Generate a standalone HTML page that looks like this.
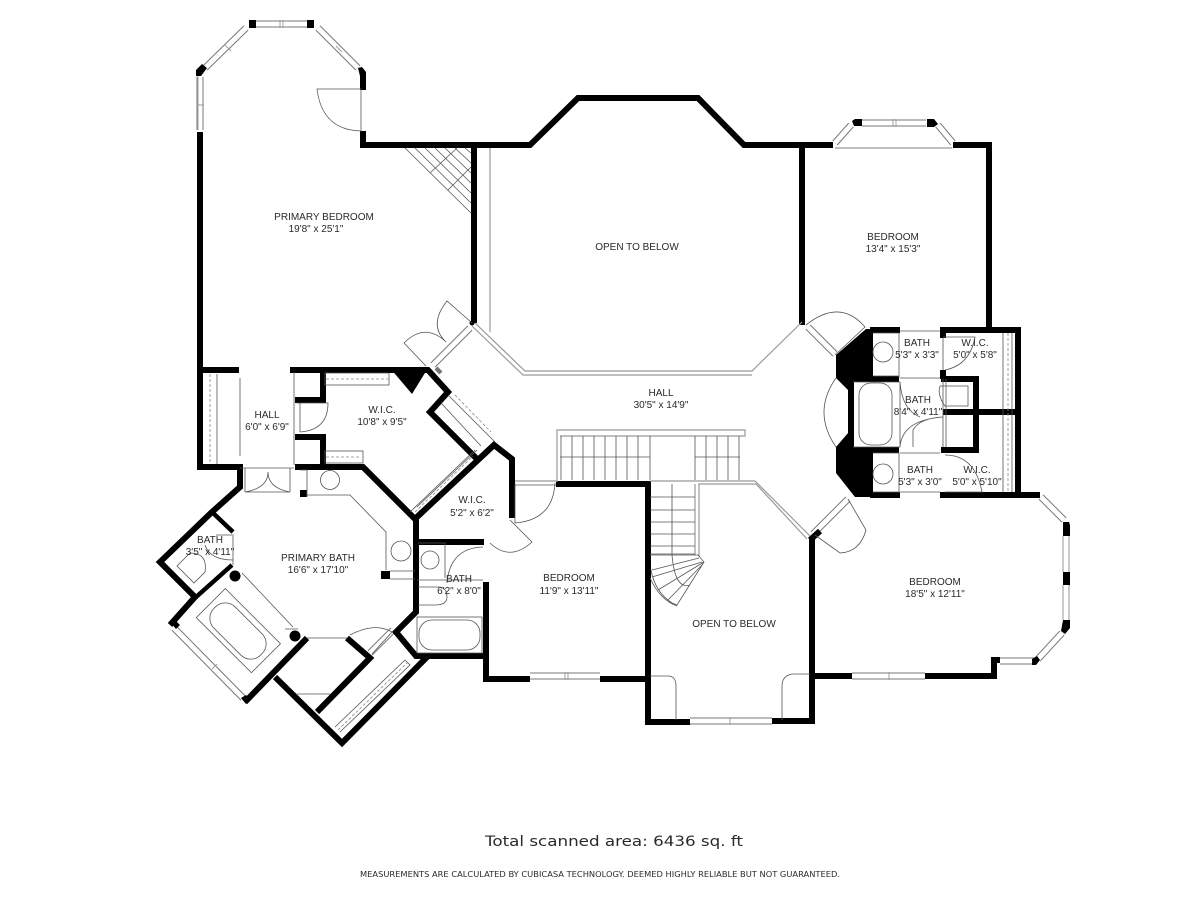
<!DOCTYPE html>
<html><head><meta charset="utf-8"><style>
html,body{margin:0;padding:0;background:#fff}
svg{display:block}
text{font-family:"Liberation Sans",sans-serif;font-size:10px;fill:#2a2a2a;text-anchor:middle}
.w{fill:none;stroke:#000;stroke-width:6;stroke-linejoin:miter}
.n{fill:none;stroke:#000;stroke-width:4.5}
.t{fill:none;stroke:#555;stroke-width:.8}
.g{fill:none;stroke:#999;stroke-width:1.2}
.d{fill:none;stroke:#888;stroke-width:.8;stroke-dasharray:3 2}
.wa{fill:none;stroke:#777;stroke-width:7}
.wb{fill:none;stroke:#fff;stroke-width:5}
.wc{fill:none;stroke:#999;stroke-width:.9}
</style></head><body>
<svg width="1200" height="900" viewBox="0 0 1200 900" xmlns="http://www.w3.org/2000/svg">
<rect width="1200" height="900" fill="#fff"/>
<!-- windows -->
<g>
<path class="wa" d="M200 77V130M205 68L246 28M256 24H307M318 28L358 68M862 123H926M835 143L851 125M938 125L953 143M1041 497L1064 520M1066 536V572M1066 585V620M1062 633L1038 659M1034 661H1000M530 676H600M852 676H925M690 721H772M174 628L243 698M433 365L470 328M437 372L440 369M813 534L848 499M808 327L835 354M370 653L393 630"/>
<path class="wb" d="M200 77V130M205 68L246 28M256 24H307M318 28L358 68M862 123H926M835 143L851 125M938 125L953 143M1041 497L1064 520M1066 536V572M1066 585V620M1062 633L1038 659M1034 661H1000M530 676H600M852 676H925M690 721H772M174 628L243 698M433 365L470 328M813 534L848 499M808 327L835 354M370 653L393 630"/>
<path class="wc" d="M197 105H204M198 75V130M225 45L231 51M336 46L342 52M280 20V28M283 20V28M565 672V680M568 672V680M889 672V680M730 717V725M893 119V127M896 119V127M1063 536V572M1069 536V572M1063 585V620M1069 585V620M212 669L217 664"/>
</g>
<!-- main walls -->
<g class="w">
<path d="M200 370V132M363 72V90M363 131V145H530L578 98H698L744 145H833M953 145H989V330"/>
<path d="M474 145V323M802 145V325"/>
<path d="M197 370H239M290 370H428L448 392L430 412L477 459M200 370V467H243M295 467H363L416 520V612L396 632L416 656H486"/>
<path d="M240 465V487L212 512L160 562L195 597L170 625M245 702L307 638M323 370V400H295M323 465V437H295"/>
<path d="M275 677L342 743L427 657M347 638L370 658L317 712"/>
<path d="M417 517L494 445L512 459V518M416 542H484M486 582V679H530M600 679H648"/>
<path d="M556 484H648V722H690M772 721H812V538M812 676H852M925 676H994V660H1000"/>
<path d="M851 379H899M941 379H976V450H941M899 450H851V379M943 330V338M943 370V379M943 412H1018M870 330H900M940 330H1018V495M870 495H900M940 495H1040"/>
<path d="M810 540L820 531"/>
</g>
<path class="n" d="M212 512L233 532M195 598L232 565"/>
<!-- black masses -->
<path d="M836 355L866 329H873V378L853 382L848 390L836 378Z" fill="#000"/>
<path d="M836 447L848 433L853 448L873 452V497H855L836 473Z" fill="#000"/>
<path d="M390 368H428L412 394Z" fill="#000"/>
<circle cx="235" cy="576" r="5.5" fill="#000"/>
<circle cx="295" cy="636" r="5.5" fill="#000"/>
<circle cx="472" cy="323" r="2.5" fill="#000"/>
<rect x="300" y="490" width="7" height="7" fill="#000"/>
<rect x="381" y="571" width="9" height="8" fill="#000"/>
<g fill="#000">
<path d="M196 70l6-6 5 4-6 8h-5zM249 20h7v8h-7zM307 20h7v8h-7zM358 68l4-1 4 5v4h-6zM852 121l3-2h7v7h-8zM927 119h7l4 5-4 3h-7zM1063 522h6l1 3v11h-7zM1063 572h7v13h-7zM1063 620h7v8l-5 6-4-3zM1032 659l5-3 3 4-4 5h-4zM171 623l4-3 5 5-4 4zM241 698l5-3 4 5-4 4z"/>
</g>
<!-- stairs etc -->
<g class="g">
<path d="M490 148V332M475 323L525 371H752L802 322M472 326L523 375H752M557 482V430H745V436H560M515 481H557M515 485H556M650 481H755L810 536M699 556V484H756L807 539M695 555V484"/>
</g>
<g class="t">
<path d="M560 457H650M561 436V480M572 436V480M583 436V480M594 436V480M605 436V480M616 436V480M627 436V480M638 436V480M650 436V480M695 457H740M695 436V480M706 436V480M717 436V480M728 436V480M739 436V480"/>
<path d="M650 497H695M650 510H695M650 522H695M650 534H695M650 546H695M650 554H695M672 484V555"/>
<path d="M650 555H698L704 562L677 605L672 603Q655 592 651 570M652 570L699 558M652 577L702 562M658 590L704 562M668 600L703 564M672 555Q675 590 690 585M650 578Q660 600 677 606"/>
<path d="M405 148L471 213M415 148L471 203M425 148L471 193M435 148L471 183M445 148L471 173M455 148L471 163M465 148L471 153M430 173L457 148M448 190L471 167"/>
<!-- doors -->
<path d="M317 89H361V131Q322 130 317 89ZM361 89V131"/>
<path d="M472 323L447 301Q428 325 446 342M426 366L404 343Q425 322 446 342"/>
<path d="M835 355L865 327Q840 298 806 325"/>
<path d="M836 378Q812 412 836 447"/>
<path d="M848 499L866 530Q860 552 840 553L815 535"/>
<path d="M515 483V523Q553 520 555 483"/>
<path d="M510 520L532 542Q510 562 490 543"/>
<!-- primary bath fixtures -->
<path d="M245 468V492M290 468V492M245 492H268M290 492H268M268 472Q268 488 245 492M268 472Q268 488 290 492"/>
<path d="M300 470H307V497M307 495H350L386 532V570M390 571H415M390 579H415"/>
<circle cx="330" cy="480" r="9.5"/><circle cx="401" cy="551" r="10"/><circle cx="430" cy="560" r="9"/>
<path d="M418 543H445V578M417 580H483M418 587H438Q447 587 447 597Q447 605 435 605H418"/>
<rect x="417" y="617" width="65" height="36"/><rect x="419" y="620" width="61" height="30" rx="13"/>
<path d="M483 547Q450 548 447 583"/>
<path d="M233 534V565M232 535H216M205 545Q210 560 233 560"/>
<path d="M190 553Q208 553 205 572L194 583L177 566Z"/>
<path d="M242 573L293 627M285 629H298"/>
<rect x="199" y="610" width="78" height="41" transform="rotate(45 238 631)"/>
<rect x="205" y="616" width="66" height="30" rx="14" transform="rotate(45 238 631)"/>
<path d="M307 638H347M350 635Q375 622 392 632L372 654"/>
<path d="M297 694H330M335 727L405 660L410 665L340 732"/>
<rect x="325" y="373" width="64" height="12"/>
<rect x="325" y="451" width="38" height="12"/>
<path d="M297 403H328Q328 430 300 432M300 403V432"/>
<path d="M240 378V456M294 372V465M240 468H294M217 374V464"/>
<path d="M448 395L495 442M441 403L481 446M417 507L477 450M410 512L475 450"/>
<!-- baths right -->
<path d="M899 333V378M899 453V493M900 331H940M900 378H940M900 453H940M900 492H940M943 338V370M943 379V447M946 379V447M1003 333V492M1012 333V492"/>
<path d="M873 333H899M873 376H899M873 453H899M873 492H899"/>
<circle cx="883" cy="352" r="10"/><circle cx="883" cy="474" r="10"/>
<rect x="859" y="383" width="33" height="62" rx="12"/>
<path d="M853 382H900V447H853M900 382Q902 410 920 417M900 447Q902 420 943 417M913 447V430Q920 418 943 417M943 337H975Q970 365 945 370"/>
<path d="M940 386H968V406H945Q937 395 940 386"/>
<path d="M945 455Q975 455 982 492H945"/>
<!-- nooks -->
<path d="M650 676H668Q676 676 676 686V720M810 674H792Q782 676 782 686V720"/>
</g>
<g class="d">
<path d="M210 374V464M1008 333V492M326 379H388M326 457H360M455 395L491 432M415 512L473 456M338 730L408 662"/>
</g>
<g stroke="#999" stroke-width="1.2" fill="none"><path d="M835 148H952"/></g>
<!-- labels -->
<text x="324" y="220">PRIMARY BEDROOM</text>
<text x="316" y="232">19'8" x 25'1"</text>
<text x="637" y="250">OPEN TO BELOW</text>
<text x="893" y="240">BEDROOM</text>
<text x="893" y="252">13'4" x 15'3"</text>
<text x="661" y="396">HALL</text>
<text x="661" y="408">30'5" x 14'9"</text>
<text x="917" y="346">BATH</text>
<text x="917" y="358">5'3" x 3'3"</text>
<text x="975" y="346">W.I.C.</text>
<text x="975" y="358">5'0" x 5'8"</text>
<text x="918" y="403">BATH</text>
<text x="918" y="415">8'4" x 4'11"</text>
<text x="920" y="473">BATH</text>
<text x="920" y="485">5'3" x 3'0"</text>
<text x="977" y="473">W.I.C.</text>
<text x="977" y="485">5'0" x 5'10"</text>
<text x="935" y="585">BEDROOM</text>
<text x="935" y="597">18'5" x 12'11"</text>
<text x="734" y="627">OPEN TO BELOW</text>
<text x="569" y="581">BEDROOM</text>
<text x="569" y="594">11'9" x 13'11"</text>
<text x="459" y="582">BATH</text>
<text x="459" y="594">6'2" x 8'0"</text>
<text x="318" y="561">PRIMARY BATH</text>
<text x="318" y="573">16'6" x 17'10"</text>
<text x="210" y="543">BATH</text>
<text x="210" y="555">3'5" x 4'11"</text>
<text x="267" y="418">HALL</text>
<text x="267" y="430">6'0" x 6'9"</text>
<text x="382" y="413">W.I.C.</text>
<text x="382" y="425">10'8" x 9'5"</text>
<text x="472" y="503">W.I.C.</text>
<text x="472" y="516">5'2" x 6'2"</text>
<text x="614" y="846" textLength="258" lengthAdjust="spacingAndGlyphs" style="font-family:'DejaVu Sans',sans-serif;font-size:14px">Total scanned area: 6436 sq. ft</text>
<text x="600" y="877" textLength="480" lengthAdjust="spacingAndGlyphs" style="font-family:'DejaVu Sans',sans-serif;font-size:8px">MEASUREMENTS ARE CALCULATED BY CUBICASA TECHNOLOGY. DEEMED HIGHLY RELIABLE BUT NOT GUARANTEED.</text>
</svg>
</body></html>
